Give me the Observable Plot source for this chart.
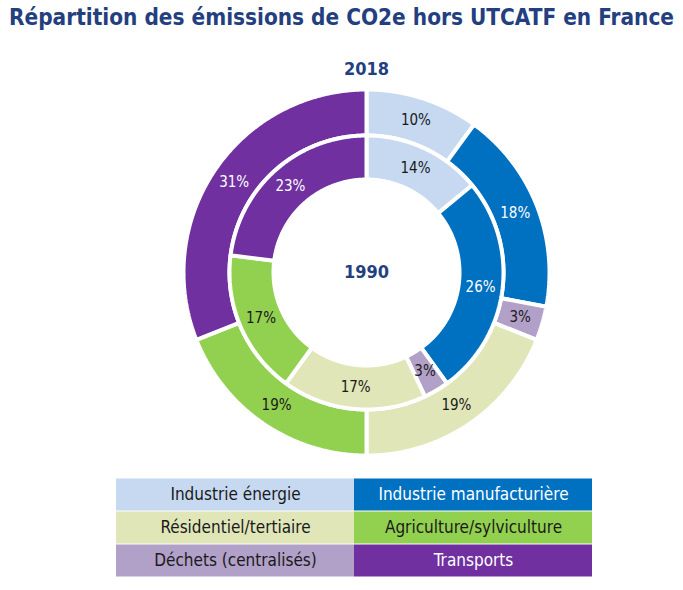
<!DOCTYPE html>
<html><head><meta charset="utf-8">
<script src="https://cdn.jsdelivr.net/npm/d3@7"></script>
<script src="https://cdn.jsdelivr.net/npm/@observablehq/plot@0.6"></script>
<style>
body{margin:0;background:#fff;width:683px;height:590px;position:relative;overflow:hidden;font-family:"DejaVu Sans Condensed","DejaVu Sans",sans-serif}
#title{position:absolute;left:0;top:4px;width:683px;text-align:center;font-weight:bold;font-size:22.4px;color:#243f80;white-space:nowrap;line-height:27px}
#chart{position:absolute;left:0;top:40px}
#legend{position:absolute;left:0;top:477px}
svg{font-family:"DejaVu Sans Condensed","DejaVu Sans",sans-serif}
</style></head><body>
<div id="title">Répartition des émissions de CO2e hors UTCATF en France</div>
<div id="chart"></div><div id="legend"></div>
<script>
const categories = ["Industrie énergie","Industrie manufacturière","Déchets (centralisés)","Résidentiel/tertiaire","Agriculture/sylviculture","Transports"];
const values2018 = [10,18,3,19,19,31];
const values1990 = [14,26,3,17,17,23];
const years = ["2018","1990"];
const legendRows = [
  ["Industrie énergie","Industrie manufacturière"],
  ["Résidentiel/tertiaire","Agriculture/sylviculture"],
  ["Déchets (centralisés)","Transports"]
];
const palette = ["#c6d9f1","#0070c0","#b1a0c7","#e0e6b8","#92d050","#7030a0"];
const darkFill = new Set(["Industrie manufacturière","Transports"]);

const color = {domain: categories, range: palette};
const textDark = "#1a1a1a";

// rings: outer = 2018, inner = 1990 (radii in px units)
const rings = [
  {year: years[0], values: values2018, r0: 137, r1: 183},
  {year: years[1], values: values1990, r0: 93, r1: 137}
];
const polys = [];
const labels = [];
const rad = Math.PI / 180;
rings.forEach(ring => {
  const total = d3.sum(ring.values);
  let acc = 0;
  ring.values.forEach((v, i) => {
    const a0 = acc / total * 360, a1 = (acc + v) / total * 360;
    acc += v;
    const id = ring.year + "-" + i;
    const n = Math.max(2, Math.ceil((a1 - a0) / 0.5));
    for (let k = 0; k <= n; k++) {
      const a = (a0 + (a1 - a0) * k / n) * rad;
      polys.push({id, cat: categories[i], x: ring.r1 * Math.sin(a), y: -ring.r1 * Math.cos(a)});
    }
    for (let k = n; k >= 0; k--) {
      const a = (a0 + (a1 - a0) * k / n) * rad;
      polys.push({id, cat: categories[i], x: ring.r0 * Math.sin(a), y: -ring.r0 * Math.cos(a)});
    }
    const am = (a0 + a1) / 2 * rad, rm = (ring.r0 + ring.r1) / 2;
    labels.push({cat: categories[i], text: v + "%", x: rm * Math.sin(am), y: -rm * Math.cos(am)});
  });
});

const cx = 366, cy = 232; // centre within the chart svg
const W = 683, H = 430;
const chart = Plot.plot({
  width: W, height: H, margin: 0,
  x: {domain: [-cx, W - cx], range: [0, W], axis: null},
  y: {domain: [-cy, H - cy], range: [0, H], axis: null},
  color,
  marks: [
    Plot.line(polys, {x: "x", y: "y", z: "id", fill: "cat", stroke: "white", strokeWidth: 4, strokeLinejoin: "miter", curve: "linear-closed"}),
    Plot.text(labels.filter(d => !darkFill.has(d.cat)), {x: "x", y: "y", text: "text", fill: textDark, fontSize: 15}),
    Plot.text(labels.filter(d => darkFill.has(d.cat)), {x: "x", y: "y", text: "text", fill: "white", fontSize: 15}),
    Plot.text([years[0]], {x: 0, y: -(rings[0].r1 + 20), text: d => d, fill: "#243f80", fontWeight: "bold", fontSize: 18}),
    Plot.text([years[1]], {x: 0, y: 0, text: d => d, fill: "#243f80", fontWeight: "bold", fontSize: 18})
  ]
});
document.getElementById("chart").append(chart);

const legendData = [];
legendRows.forEach((row, r) => row.forEach((cat, c) => legendData.push({row: r, col: c, cat})));
const legend = Plot.plot({
  width: W, height: 101, marginLeft: 115, marginRight: 91, marginTop: 0, marginBottom: 0,
  x: {domain: [0, 1], padding: 0, axis: null},
  y: {domain: [0, 1, 2], padding: 0, axis: null},
  color,
  marks: [
    Plot.cell(legendData, {x: "col", y: "row", fill: "cat", insetTop: 0.5, insetBottom: 0.5}),
    Plot.text(legendData.filter(d => !darkFill.has(d.cat)), {x: "col", y: "row", text: "cat", fill: textDark, fontSize: 17}),
    Plot.text(legendData.filter(d => darkFill.has(d.cat)), {x: "col", y: "row", text: "cat", fill: "white", fontSize: 17})
  ]
});
document.getElementById("legend").append(legend);
</script>
</body></html>
